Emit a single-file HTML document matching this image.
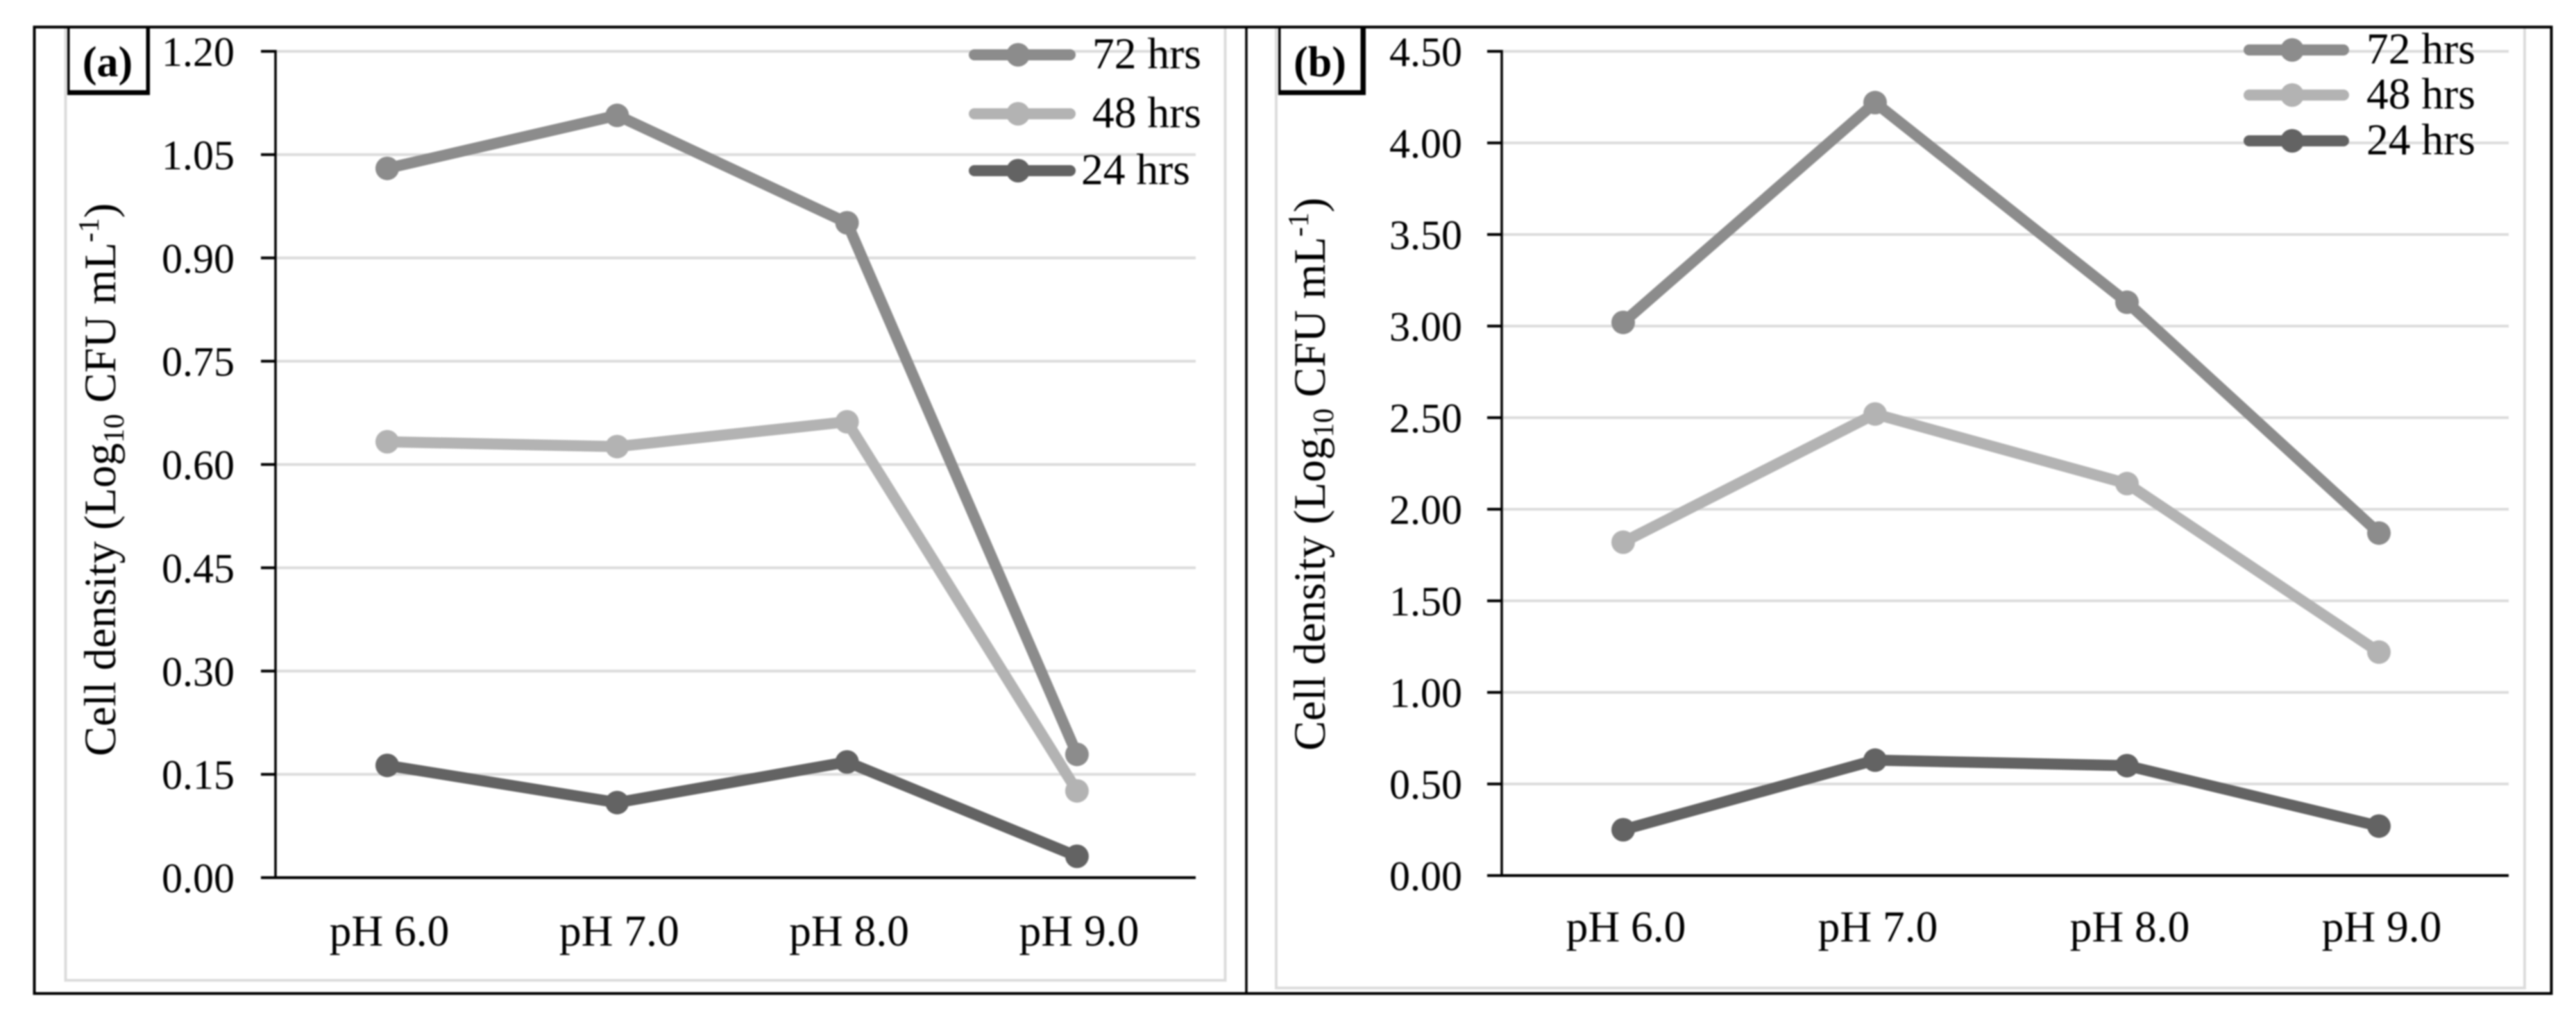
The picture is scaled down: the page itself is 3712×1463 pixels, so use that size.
<!DOCTYPE html>
<html lang="en">
<head>
<meta charset="utf-8">
<title>Cell density versus pH</title>
<style>
html,body{margin:0;padding:0;background:#fff;width:3712px;height:1463px;overflow:hidden}
svg{display:block;font-family:"Liberation Serif",serif;fill:#000;filter:blur(1px)}
</style>
</head>
<body>
<svg id="figure" xmlns="http://www.w3.org/2000/svg" width="3712" height="1463" viewBox="0 0 3712 1463">
  <rect x="0" y="0" width="3712" height="1463" fill="#fff"/>
  <rect x="94.5" y="39" width="1671" height="1374" fill="none" stroke="#dcdcdc" stroke-width="4"/>
  <rect x="1839" y="39" width="1799" height="1385" fill="none" stroke="#dcdcdc" stroke-width="4"/>
  <g id="panel-a"></g>
  <g id="panel-b"></g>
  <g>
    <rect x="97" y="39" width="119" height="98" fill="#000"/>
    <rect x="100.5" y="39" width="110" height="91" fill="#fff"/>
    <text x="155" y="110" font-size="62" font-weight="bold" text-anchor="middle">(a)</text>
  </g>
  <g>
    <rect x="1842" y="39" width="126" height="98" fill="#000"/>
    <rect x="1845.5" y="39" width="115" height="91" fill="#fff"/>
    <text x="1902" y="110" font-size="62" font-weight="bold" text-anchor="middle">(b)</text>
  </g>
  <rect x="49.5" y="39" width="3627" height="1393" fill="none" stroke="#000" stroke-width="4"/>
  <line x1="1796" y1="39" x2="1796" y2="1432" stroke="#000" stroke-width="3.5"/>
</svg>
<script>
const categories = ["pH 6.0", "pH 7.0", "pH 8.0", "pH 9.0"];
const seriesNames = ["72 hrs", "48 hrs", "24 hrs"];

const panelATicks = [0, 0.15, 0.30, 0.45, 0.60, 0.75, 0.90, 1.05, 1.20];
const panelA72 = [1.03, 1.107, 0.951, 0.179];
const panelA48 = [0.633, 0.626, 0.662, 0.126];
const panelA24 = [0.163, 0.109, 0.168, 0.031];

const panelBTicks = [0, 0.5, 1.0, 1.5, 2.0, 2.5, 3.0, 3.5, 4.0, 4.5];
const panelB72 = [3.02, 4.22, 3.13, 1.87];
const panelB48 = [1.82, 2.52, 2.14, 1.22];
const panelB24 = [0.25, 0.63, 0.6, 0.27];

const NS = "http://www.w3.org/2000/svg";
const seriesColors = ["#8c8c8c", "#b3b3b3", "#636363"];

function make(tag, attrs, parent, text) {
  const node = document.createElementNS(NS, tag);
  for (const key in attrs) node.setAttribute(key, attrs[key]);
  if (text !== undefined) node.textContent = text;
  parent.appendChild(node);
  return node;
}

function linearScale(domainMax, bottom, top) {
  return function (v) { return bottom - (v / domainMax) * (bottom - top); };
}

function categoryScale(first, step) {
  return function (i) { return first + i * step; };
}

function drawPanel(cfg) {
  const root = document.getElementById(cfg.id);
  const y = linearScale(cfg.ticks[cfg.ticks.length - 1], cfg.bottom, cfg.top);
  const x = categoryScale(cfg.firstX, cfg.stepX);

  cfg.ticks.forEach(function (t) {
    const py = y(t);
    if (t !== 0) {
      const grid = make("line", {x1: cfg.left, y1: py, x2: cfg.right, y2: py, stroke: "#dcdcdc", "stroke-width": 4}, root);
      
      
    }
    const tick = make("line", {x1: cfg.left - 21, y1: py, x2: cfg.left, y2: py, stroke: "#000", "stroke-width": 4}, root);
    
    
    const label = make("text", {x: cfg.tickRight, y: py + 21, "font-size": 60, "text-anchor": "end"}, root, t.toFixed(2));
    
    
  });

  const yAxis = make("line", {x1: cfg.left, y1: cfg.top - 2, x2: cfg.left, y2: cfg.bottom + 2, stroke: "#000", "stroke-width": 3.5}, root);
  
  
  const xAxis = make("line", {x1: cfg.left, y1: cfg.bottom, x2: cfg.right, y2: cfg.bottom, stroke: "#000", "stroke-width": 4}, root);
  
  

  categories.forEach(function (c, i) {
    const label = make("text", {x: x(i) + cfg.catOffset, y: cfg.catY, "font-size": 63.5, "text-anchor": "middle"}, root, c);
    
    
  });

  const title = make("text", {x: 0, y: 0, "font-size": 64.5, transform: "translate(" + cfg.titleX + " " + cfg.titleY + ") rotate(-90)"}, root);
  
  
  make("tspan", {}, title, "Cell density (Log");
  make("tspan", {"font-size": 42, dy: 12}, title, "10");
  make("tspan", {dy: -12}, title, " CFU mL");
  make("tspan", {"font-size": 42, dy: -24}, title, "-1");
  make("tspan", {dy: 24}, title, ")");

  cfg.series.forEach(function (values, s) {
    const group = make("g", {}, root);
    
    
    const pts = values.map(function (v, i) { return x(i) + "," + y(v); }).join(" ");
    const line = make("polyline", {points: pts, fill: "none", stroke: seriesColors[s], "stroke-width": 16, "stroke-linejoin": "round", "stroke-linecap": "round"}, group);
    
    
    values.forEach(function (v, i) {
      const dot = make("circle", {cx: x(i), cy: y(v), r: 17, fill: seriesColors[s]}, group);
      
      
    });
  });

  seriesNames.forEach(function (name, s) {
    const entry = make("g", {}, root);
    
    
    const ly = cfg.legendY[s];
    const swatch = make("line", {x1: cfg.legendX1 + 7, y1: ly, x2: cfg.legendX2 - 7, y2: ly, stroke: seriesColors[s], "stroke-width": 16, "stroke-linecap": "round"}, entry);
    
    
    const mark = make("circle", {cx: cfg.legendMarkX, cy: ly, r: 17, fill: seriesColors[s]}, entry);
    
    
    const label = make("text", {x: cfg.legendTextX[s], y: ly + 19.5, "font-size": 63.5}, entry, name);
    
    
  });
}

drawPanel({
  id: "panel-a", ticks: panelATicks, series: [panelA72, panelA48, panelA24],
  left: 397, right: 1723, top: 74, bottom: 1265, firstX: 558, stepX: 331.3,
  tickRight: 338, catY: 1363, catOffset: 3, titleX: 166, titleY: 1090,
  legendY: [79, 164, 246], legendX1: 1397, legendX2: 1549, legendMarkX: 1467,
  legendTextX: [1574, 1574, 1558]
});

drawPanel({
  id: "panel-b", ticks: panelBTicks, series: [panelB72, panelB48, panelB24],
  left: 2164, right: 3615, top: 74, bottom: 1262, firstX: 2339, stepX: 363,
  tickRight: 2107, catY: 1357, catOffset: 4, titleX: 1909, titleY: 1082,
  legendY: [72, 137, 203], legendX1: 3234, legendX2: 3384, legendMarkX: 3303,
  legendTextX: [3410, 3410, 3410]
});
</script>
</body>
</html>
